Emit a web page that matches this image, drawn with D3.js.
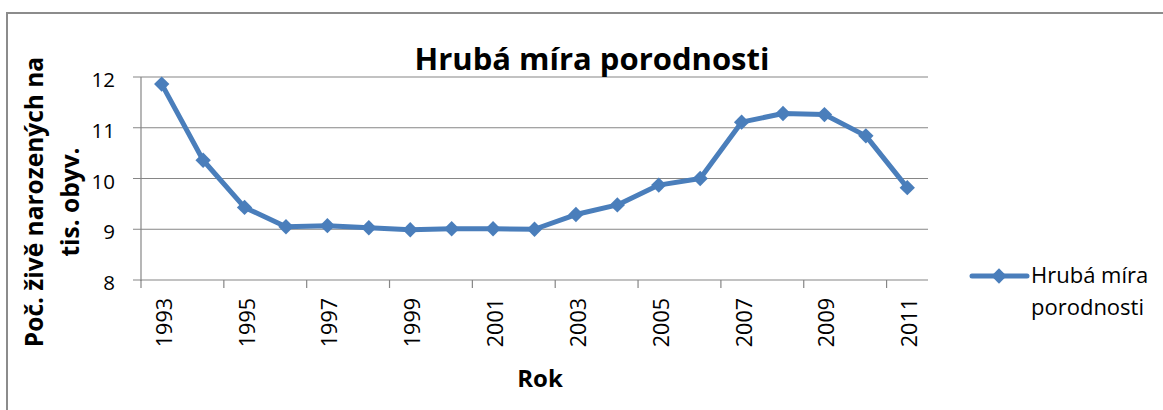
<!DOCTYPE html>
<html><head><meta charset="utf-8">
<script src="https://cdn.jsdelivr.net/npm/d3@7"></script>
<style>body{margin:0;background:#fff}svg{display:block}</style>
</head><body>
<script>
const years = ["1993","1994","1995","1996","1997","1998","1999","2000","2001","2002","2003","2004","2005","2006","2007","2008","2009","2010","2011"];
const values = [11.86,10.36,9.43,9.05,9.07,9.03,8.99,9.01,9.01,9.0,9.29,9.48,9.87,10.0,11.11,11.28,11.26,10.84,9.82];
const yTicks = [8,9,10,11,12];
const seriesName = "Hrubá míra porodnosti";
const title = "Hrubá míra porodnosti";
const yTitle = ["Poč. živě narozených na","tis. obyv."];
const xTitle = "Rok";

const W=1163,H=410;
const font = "Open Sans, sans-serif";
const svg = d3.select("body").append("svg").attr("width",W).attr("height",H);
svg.append("rect").attr("x",7).attr("y",13).attr("width",W+10).attr("height",H+10)
  .attr("fill","#fff").attr("stroke","#8c8c8c").attr("stroke-width",2);

const L=141,R=928,T=77,B=280;
const x = d3.scaleBand().domain(years).range([L,R]);
const y = d3.scaleLinear().domain([8,12]).range([B,T]);

// gridlines
svg.append("g").selectAll("line").data(yTicks).join("line")
  .attr("x1",L-8).attr("x2",R).attr("y1",d=>y(d)).attr("y2",d=>y(d))
  .attr("stroke","#868686").attr("stroke-width",1.2);
// y axis line
svg.append("line").attr("x1",L).attr("x2",L).attr("y1",T).attr("y2",B+1).attr("stroke","#868686").attr("stroke-width",1.2);
// y tick labels
svg.append("g").selectAll("text").data(yTicks).join("text")
  .attr("x",115).attr("y",d=>y(d)+10).attr("text-anchor","end")
  .attr("font-family",font).attr("font-size",20.5).attr("fill","#000").text(d=>d);
// x tick marks every 2 categories
const tickIdx = d3.range(0, years.length+1, 2);
svg.append("g").selectAll("line").data(tickIdx).join("line")
  .attr("x1",i=>L+i*x.step()).attr("x2",i=>L+i*x.step())
  .attr("y1",B).attr("y2",B+8).attr("stroke","#868686").attr("stroke-width",1.2);
// x tick labels
svg.append("g").selectAll("text").data(years.filter((d,i)=>i%2===0)).join("text")
  .attr("transform",d=>`translate(${x(d)+x.bandwidth()/2+10},298) rotate(-90)`)
  .attr("text-anchor","end").attr("font-family",font).attr("font-size",21.5).attr("fill","#000").text(d=>d);

// line
const line = d3.line().x((d,i)=>x(years[i])+x.bandwidth()/2).y(d=>y(d));
svg.append("path").datum(values).attr("d",line).attr("fill","none")
  .attr("stroke","#4a7ebb").attr("stroke-width",5).attr("stroke-linejoin","round");
const diamond = d3.symbol().type(d3.symbolDiamond2).size(150);
svg.append("g").selectAll("path").data(values).join("path")
  .attr("transform",(d,i)=>`translate(${x(years[i])+x.bandwidth()/2},${y(d)})`)
  .attr("d",diamond).attr("fill","#4a7ebb");

// titles
svg.append("text").attr("x",592).attr("y",70).attr("text-anchor","middle")
  .attr("font-family",font).attr("font-weight","bold").attr("font-size",31).text(title);
svg.append("text").attr("transform","translate(43,202) rotate(-90)").attr("text-anchor","middle")
  .attr("font-family",font).attr("font-weight","bold").attr("font-size",24.5).text(yTitle[0]);
svg.append("text").attr("transform","translate(79,202) rotate(-90)").attr("text-anchor","middle")
  .attr("font-family",font).attr("font-weight","bold").attr("font-size",24.5).text(yTitle[1]);
svg.append("text").attr("x",540).attr("y",387).attr("text-anchor","middle")
  .attr("font-family",font).attr("font-weight","bold").attr("font-size",24).text(xTitle);

// legend
svg.append("line").attr("x1",972).attr("x2",1027).attr("y1",276).attr("y2",276)
  .attr("stroke","#4a7ebb").attr("stroke-width",5).attr("stroke-linecap","round");
svg.append("path").attr("transform","translate(999,276)").attr("d",diamond).attr("fill","#4a7ebb");
const words = seriesName.split(" ");
svg.append("text").attr("x",1031).attr("y",283).attr("font-family",font).attr("font-size",22).text(words.slice(0,2).join(" "));
svg.append("text").attr("x",1031).attr("y",315).attr("font-family",font).attr("font-size",22).text(words.slice(2).join(" "));
</script>
</body></html>
